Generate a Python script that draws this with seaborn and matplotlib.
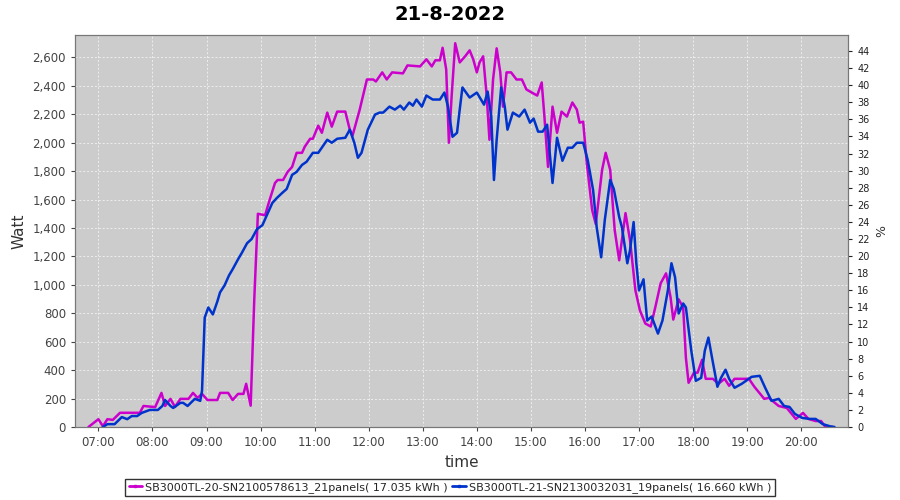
import numpy as np
import pandas as pd
import seaborn as sns
import matplotlib
matplotlib.use('Agg')
import matplotlib.pyplot as plt
import matplotlib.dates as mdates
from matplotlib.ticker import FuncFormatter
from matplotlib.lines import Line2D

# --- data ---
day = '2022-08-21'
name_20 = 'SB3000TL-20-SN2100578613_21panels( 17.035 kWh )'
name_21 = 'SB3000TL-21-SN2130032031_19panels( 16.660 kWh )'

t_20 = ['06:49', '07:00', '07:05', '07:10', '07:16', '07:24', '07:46', '07:50', '08:03', '08:10',
        '08:14', '08:20', '08:25', '08:31', '08:40', '08:45', '08:50', '08:55', '09:01', '09:12',
        '09:15', '09:24', '09:29', '09:35', '09:41', '09:44', '09:49', '09:53', '09:57', '10:05',
        '10:10', '10:16', '10:19', '10:25', '10:30', '10:35', '10:40', '10:46', '10:49', '10:55',
        '10:58', '11:04', '11:08', '11:14', '11:19', '11:25', '11:34', '11:39', '11:42', '11:50',
        '11:58', '12:05', '12:08', '12:15', '12:20', '12:26', '12:38', '12:43', '12:57', '13:04',
        '13:10', '13:14', '13:19', '13:22', '13:26', '13:29', '13:32', '13:36', '13:41', '13:47',
        '13:52', '13:56', '14:00', '14:03', '14:07', '14:11', '14:14', '14:18', '14:22', '14:26',
        '14:29', '14:33', '14:38', '14:44', '14:50', '14:55', '15:01', '15:07', '15:12', '15:15',
        '15:19', '15:24', '15:29', '15:34', '15:40', '15:46', '15:51', '15:54', '15:58', '16:02',
        '16:08', '16:12', '16:19', '16:23', '16:28', '16:33', '16:38', '16:45', '16:50', '16:56',
        '17:01', '17:07', '17:13', '17:18', '17:24', '17:30', '17:35', '17:38', '17:44', '17:49',
        '17:52', '17:55', '18:01', '18:05', '18:10', '18:14', '18:22', '18:28', '18:35', '18:40',
        '18:46', '19:02', '19:08', '19:19', '19:24', '19:35', '19:44', '19:54', '20:02', '20:08',
        '20:16', '20:22', '20:27', '20:35']
w_20 = [0, 55, 5, 55, 50, 100, 100, 148, 140, 240,
        148, 198, 141, 198, 198, 240, 205, 233, 190, 190,
        240, 240, 190, 233, 233, 304, 150, 900, 1500, 1490,
        1597, 1717, 1738, 1738, 1795, 1830, 1929, 1929, 1972, 2028,
        2028, 2120, 2070, 2212, 2113, 2219, 2219, 2092, 2049, 2233,
        2445, 2445, 2431, 2495, 2445, 2495, 2488, 2544, 2537, 2587,
        2537, 2580, 2580, 2668, 2516, 2000, 2325, 2700, 2565, 2608,
        2650, 2587, 2495, 2565, 2608, 2325, 2021, 2445, 2664, 2495,
        2254, 2495, 2495, 2445, 2445, 2375, 2353, 2332, 2424, 2184,
        1830, 2254, 2070, 2219, 2184, 2283, 2233, 2141, 2148, 1859,
        1526, 1428, 1809, 1929, 1809, 1385, 1173, 1505, 1314, 961,
        820, 728, 707, 841, 1011, 1081, 912, 756, 898, 841,
        488, 311, 382, 382, 473, 339, 339, 304, 339, 290,
        339, 339, 283, 198, 205, 148, 134, 57, 99, 57,
        42, 42, 0, 0]

t_21 = ['07:05', '07:10', '07:18', '07:26', '07:32', '07:37', '07:43', '07:48', '07:57', '08:06',
        '08:11', '08:14', '08:20', '08:23', '08:31', '08:34', '08:39', '08:47', '08:53', '08:55',
        '08:58', '09:02', '09:07', '09:12', '09:15', '09:20', '09:25', '09:29', '09:35', '09:39',
        '09:45', '09:50', '09:56', '10:02', '10:07', '10:13', '10:18', '10:24', '10:29', '10:35',
        '10:40', '10:46', '10:51', '10:58', '11:04', '11:14', '11:19', '11:25', '11:34', '11:39',
        '11:44', '11:48', '11:52', '11:59', '12:07', '12:12', '12:16', '12:23', '12:29', '12:35',
        '12:39', '12:45', '12:49', '12:53', '12:59', '13:04', '13:11', '13:19', '13:24', '13:28',
        '13:33', '13:38', '13:41', '13:44', '13:52', '14:00', '14:08', '14:12', '14:16', '14:19',
        '14:22', '14:27', '14:31', '14:34', '14:40', '14:47', '14:53', '14:59', '15:03', '15:08',
        '15:13', '15:18', '15:24', '15:29', '15:35', '15:41', '15:46', '15:51', '15:58', '16:03',
        '16:09', '16:13', '16:18', '16:22', '16:28', '16:32', '16:38', '16:41', '16:47', '16:50',
        '16:54', '16:57', '17:00', '17:05', '17:09', '17:14', '17:21', '17:26', '17:32', '17:36',
        '17:40', '17:44', '17:49', '17:52', '17:58', '18:03', '18:09', '18:13', '18:17', '18:21',
        '18:27', '18:31', '18:36', '18:40', '18:46', '18:54', '19:05', '19:14', '19:20', '19:27',
        '19:35', '19:41', '19:47', '19:53', '20:01', '20:09', '20:16', '20:24', '20:32', '20:37']
w_21 = [0, 20, 20, 70, 55, 77, 77, 99, 120, 120,
        148, 190, 148, 134, 170, 170, 148, 198, 184, 254,
        770, 841, 792, 883, 947, 996, 1067, 1110, 1180, 1223,
        1293, 1322, 1392, 1420, 1491, 1576, 1611, 1647, 1675, 1774,
        1795, 1844, 1866, 1929, 1929, 2021, 2000, 2028, 2035, 2092,
        2000, 1894, 1929, 2092, 2198, 2212, 2212, 2254, 2233, 2261,
        2233, 2283, 2261, 2304, 2254, 2332, 2304, 2304, 2353, 2254,
        2042, 2070, 2233, 2389, 2318, 2353, 2268, 2360, 2184, 1738,
        2021, 2389, 2254, 2092, 2212, 2184, 2233, 2141, 2170, 2078,
        2078, 2127, 1717, 2035, 1873, 1965, 1965, 2000, 2000, 1880,
        1668, 1406, 1194, 1456, 1738, 1675, 1477, 1406, 1152, 1244,
        1442, 1152, 961, 1039, 749, 777, 657, 749, 961, 1152,
        1053, 799, 869, 841, 537, 325, 346, 537, 629, 488,
        283, 346, 403, 339, 276, 304, 353, 360, 276, 184,
        198, 148, 141, 92, 64, 57, 57, 20, 5, 0]

df = pd.concat([
    pd.DataFrame({'time': pd.to_datetime([day + ' ' + t for t in t_20]), 'watt': w_20, 'inverter': name_20}),
    pd.DataFrame({'time': pd.to_datetime([day + ' ' + t for t in t_21]), 'watt': w_21, 'inverter': name_21}),
])

sns.set_style('white')
plt.rcParams['font.family'] = ['DejaVu Sans']

fig = plt.figure(figsize=(9, 5), dpi=100)
ax = fig.add_axes([0.0833, 0.146, 0.859, 0.784])
ax.set_facecolor('#cccccc')

sns.lineplot(data=df, x='time', y='watt', hue='inverter',
             palette={name_20: '#cc00cc', name_21: '#0033cc'},
             linewidth=1.8, ax=ax, legend=False)

ax.set_xlim(pd.Timestamp(day + ' 06:34'), pd.Timestamp(day + ' 20:52'))
ax.set_ylim(0, 2758)
ax.xaxis.set_major_locator(mdates.HourLocator())
ax.xaxis.set_major_formatter(mdates.DateFormatter('%H:%M'))
ax.set_yticks(np.arange(0, 2601, 200))
ax.yaxis.set_major_formatter(FuncFormatter(lambda v, p: f'{int(v):,}'))
ax.grid(True, color='#eeeeee', linestyle=(0, (2, 2)), linewidth=0.7)
for s in ax.spines.values():
    s.set_color('#777777')
ax.tick_params(axis='both', labelsize=8.5, colors='#444444', length=3, direction='out',
               left=True, bottom=True)
ax.set_xlabel('time', fontsize=11, color='#333333')
ax.set_ylabel('Watt', fontsize=11, color='#333333')

ax2 = ax.twinx()
ax2.set_ylim(0, 45.87)
ax2.set_yticks(np.arange(0, 45, 2))
ax2.tick_params(axis='y', labelsize=7, colors='#222222', length=3, right=True)
ax2.set_ylabel('%', fontsize=9, color='#333333')
for s in ax2.spines.values():
    s.set_color('#777777')

fig.suptitle('21-8-2022', x=0.5, y=0.99, fontsize=14, fontweight='bold', color='black')

handles = [Line2D([], [], color='#cc00cc', lw=2, marker='s', markersize=2),
           Line2D([], [], color='#0033cc', lw=2, marker='s', markersize=2)]
leg = fig.legend(handles, [name_20, name_21], loc='center', bbox_to_anchor=(0.5, 0.025),
                 ncol=2, fontsize=8, frameon=True, fancybox=False, handlelength=1.2,
                 handletextpad=0.3, columnspacing=0.4, borderpad=0.3, edgecolor='black')
leg.get_frame().set_linewidth(1.0)

fig.savefig('out.png', dpi=100)
